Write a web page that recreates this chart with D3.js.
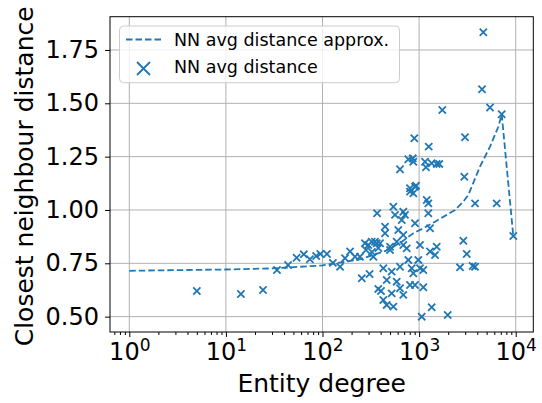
<!DOCTYPE html>
<html><head><meta charset="utf-8">
<script src="https://cdn.jsdelivr.net/npm/d3@7"></script>
<style>body{margin:0;background:#fff} text{font-family:"DejaVu Sans",sans-serif;fill:#000}</style>
</head><body><svg id="c" width="542" height="403"></svg>
<script>
// ---- data ----
const degree = [5.0,14.3,24.2,33.8,44,54,64,74,86,95,111,128,152,171,193,217,244,275,298,323,364,367,255,307,378,
907,805,871,1199,1245,541,563,686,714,661,1245,907,1297,444,609,444,686,349,394,500,586,686,744,1021,1297,1521,1462,2870,3112,
336,500,426,520,634,773,838,981,1021,1105,871,2650,462,586,403,520,634,686,805,907,1105,426,462,541,1350,1064,1977,
4620,4480,5420,7160,1738,892,1257,2986,634,773,859,871,1151,1178,1350,1521,1618,2938,805,929,3793,6353,9440,3589,3793,282,325,378];
const distance = [0.620,0.606,0.625,0.719,0.742,0.776,0.792,0.769,0.784,0.794,0.794,0.752,0.734,0.774,0.805,0.781,0.781,0.844,0.836,0.851,0.844,0.985,0.680,0.700,0.630,
1.109,1.086,1.078,1.047,1.031,1.015,0.977,0.992,0.977,0.953,0.985,0.938,0.914,0.922,0.906,0.891,0.883,0.851,0.844,0.828,0.851,0.836,0.820,0.836,0.805,0.828,0.789,0.856,0.794,
0.781,0.812,0.727,0.711,0.734,0.766,0.727,0.766,0.727,0.719,0.703,0.731,0.672,0.664,0.620,0.609,0.633,0.602,0.648,0.648,0.638,0.578,0.555,0.547,0.544,0.500,0.508,
1.833,1.566,1.480,1.449,1.469,1.336,1.297,1.341,1.191,1.238,1.242,1.226,1.226,1.200,1.219,1.216,1.216,1.156,1.102,1.114,1.031,1.031,0.878,0.737,0.734,0.812,0.803,0.822];
const approxDegree = [1,10,30,100,250,450,661,871,1105,1462,1932,2354,2869,3229,4266,5419,6610,7160,9440];
const approxDistance = [0.715,0.721,0.726,0.740,0.770,0.808,0.851,0.891,0.914,0.945,0.977,1.0,1.039,1.07,1.203,1.297,1.39,1.449,0.878];
const xTicks = [1,10,100,1000,10000];
const xTickExp = ["0","1","2","3","4"];
const yTicks = [0.5,0.75,1.0,1.25,1.5,1.75];
const yTickLabels = ["0.50","0.75","1.00","1.25","1.50","1.75"];
const legendLabels = ["NN avg distance approx.","NN avg distance"];
const xLabel = "Entity degree", yLabel = "Closest neighbour distance";
const blue = "#1f77b4";

// ---- layout ----
const svg = d3.select("#c");
const L = 110, R = 533.3, T = 16.7, B = 332;
const x = d3.scaleLog().domain([Math.pow(10,-0.1998), Math.pow(10,4.182)]).range([L, R]);
const y = d3.scaleLinear().domain([0.428, 1.906]).range([B, T]);

// grid
const g = svg.append("g");
g.selectAll("line.gx").data(xTicks).join("line")
  .attr("x1", d => x(d)).attr("x2", d => x(d)).attr("y1", T).attr("y2", B)
  .attr("stroke", "#b0b0b0").attr("stroke-width", 1);
g.selectAll("line.gy").data(yTicks).join("line")
  .attr("x1", L).attr("x2", R).attr("y1", d => y(d)).attr("y2", d => y(d))
  .attr("stroke", "#b0b0b0").attr("stroke-width", 1);

// x axis
const minor = [];
for (let e = -1; e <= 4; e++) for (let k = 2; k <= 9; k++) {
  const v = k * Math.pow(10, e);
  if (v > x.domain()[0] && v < x.domain()[1]) minor.push(v);
}
const xAxis = svg.append("g").attr("transform", `translate(0,${B})`);
xAxis.call(d3.axisBottom(x).tickValues(minor).tickSize(3).tickFormat(""));
const xMaj = svg.append("g").attr("transform", `translate(0,${B})`);
xMaj.call(d3.axisBottom(x).tickValues(xTicks).tickSize(5).tickPadding(6).tickFormat(""));
[xAxis, xMaj].forEach(a => { a.select(".domain").remove(); a.selectAll("line").attr("stroke", "#000").attr("stroke-width", 1); });
xMaj.selectAll(".tick").each(function(d, i) {
  const t = d3.select(this).append("text").attr("y", 28).attr("text-anchor", "middle")
    .attr("font-size", 24).attr("fill", "#000");
  t.append("tspan").text("10");
  t.append("tspan").attr("dy", -9).attr("font-size", 17).text(xTickExp[i]);
});

// y axis
const yAxis = svg.append("g").attr("transform", `translate(${L},0)`);
yAxis.call(d3.axisLeft(y).tickValues(yTicks).tickSize(5).tickPadding(6).tickFormat((d, i) => yTickLabels[i]));
yAxis.select(".domain").remove();
yAxis.selectAll("line").attr("stroke", "#000").attr("stroke-width", 1);
yAxis.selectAll("text").attr("font-size", 24).attr("fill", "#000").attr("font-family", "DejaVu Sans");

// approx line
const lineData = approxDegree.map((d, i) => [d, approxDistance[i]]);
svg.append("path").datum(lineData)
  .attr("d", d3.line().x(d => x(d[0])).y(d => y(d[1])))
  .attr("fill", "none").attr("stroke", blue).attr("stroke-width", 1.8).attr("stroke-dasharray", "6.5,3");

// scatter
const s = 3.6;
const pts = degree.map((d, i) => [d, distance[i]]);
svg.append("g").selectAll("path").data(pts).join("path")
  .attr("d", d => { const cx = x(d[0]), cy = y(d[1]);
    return `M${cx-s},${cy-s}L${cx+s},${cy+s}M${cx-s},${cy+s}L${cx+s},${cy-s}`; })
  .attr("stroke", blue).attr("stroke-width", 1.8).attr("fill", "none");

// spines
svg.append("rect").attr("x", L).attr("y", T).attr("width", R - L).attr("height", B - T)
  .attr("fill", "none").attr("stroke", "#000").attr("stroke-width", 1);

// labels
svg.append("text").attr("x", (L + R) / 2).attr("y", 392).attr("text-anchor", "middle")
  .attr("font-size", 25).text(xLabel);
svg.append("text").attr("transform", `translate(33,${(T + B) / 2 + 2}) rotate(-90)`).attr("text-anchor", "middle")
  .attr("font-size", 25).text(yLabel);

// legend
const lg = svg.append("g");
lg.append("rect").attr("x", 119.5).attr("y", 26).attr("width", 280).attr("height", 56.7).attr("rx", 4)
  .attr("fill", "#fff").attr("fill-opacity", 0.8).attr("stroke", "#cccccc").attr("stroke-width", 1);
lg.append("line").attr("x1", 126).attr("x2", 161).attr("y1", 39.5).attr("y2", 39.5)
  .attr("stroke", blue).attr("stroke-width", 1.8).attr("stroke-dasharray", "6.5,3");
const ls = 6.5, lx = 143.5, ly = 68.5;
lg.append("path").attr("d", `M${lx-ls},${ly-ls}L${lx+ls},${ly+ls}M${lx-ls},${ly+ls}L${lx+ls},${ly-ls}`)
  .attr("stroke", blue).attr("stroke-width", 1.8);
lg.append("text").attr("x", 174).attr("y", 46).attr("font-size", 17.5).text(legendLabels[0]);
lg.append("text").attr("x", 174).attr("y", 72.5).attr("font-size", 17.5).text(legendLabels[1]);
</script></body></html>
